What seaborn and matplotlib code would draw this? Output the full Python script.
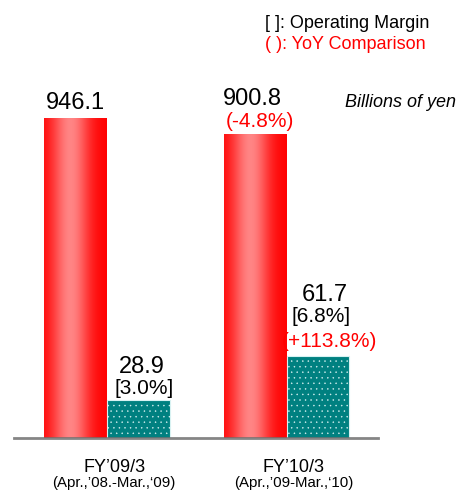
import numpy as np
import pandas as pd
import seaborn as sns
import matplotlib.pyplot as plt

# chart data
periods = ["FY’09/3", "FY’10/3"]
spans = ["(Apr.,’08.-Mar.,‘09)", "(Apr.,’09-Mar.,‘10)"]
kinds = ["Net sales", "Operating income"]
net_sales = [946.1, 900.8]
op_income = [28.9, 61.7]
op_margin = ["[3.0%]", "[6.8%]"]
sales_yoy = [None, "(-4.8%)"]
income_yoy = [None, "(+113.8%)"]


def pt(px):
    # pixel offset at 100 dpi -> points
    return px * 0.72


def main():
    sns.set_theme(style="white")
    plt.rcParams['font.family'] = ['Liberation Sans', 'DejaVu Sans']
    plt.rcParams['hatch.linewidth'] = 0.3

    fig = plt.figure(figsize=(4.57, 4.90), dpi=100)
    ax = fig.add_axes([14 / 457, 52 / 490, 364 / 457, 378 / 490])
    ax2 = ax.twinx()

    salesDf = pd.DataFrame({"period": periods, "value": net_sales, "kind": kinds[0]})
    incomeDf = pd.DataFrame({"period": periods, "value": op_income, "kind": kinds[1]})
    palette = {kinds[0]: "#ff0000", kinds[1]: "#008080"}

    sns.barplot(data=salesDf, x="period", y="value", hue="kind", hue_order=kinds,
                order=periods, dodge=True, width=0.7, palette=palette,
                errorbar=None, legend=False, ax=ax)
    sns.barplot(data=incomeDf, x="period", y="value", hue="kind", hue_order=kinds,
                order=periods, dodge=True, width=0.7, palette=palette,
                errorbar=None, legend=False, ax=ax2)

    # cylinder-like gradient on the red bars
    t = np.linspace(0, 1, 256)
    w = np.exp(-((t - 0.42) / 0.3) ** 2)
    img = np.zeros((1, 256, 3))
    img[0, :, 0] = 1.0
    img[0, :, 1] = 0.52 * w
    img[0, :, 2] = 0.52 * w
    salesBars = [p for p in ax.patches if p.get_height() > 0]
    for p in salesBars:
        x0 = p.get_x()
        x1 = x0 + p.get_width()
        ax.imshow(img, extent=[x0, x1, 0, p.get_height()], aspect='auto',
                  zorder=p.get_zorder(), interpolation='bicubic')
        p.set_facecolor('none')
        p.set_edgecolor('none')

    incomeBars = [p for p in ax2.patches if p.get_height() > 0]
    for p in incomeBars:
        p.set_facecolor('#008080')
        p.set_hatch('...')
        p.set_edgecolor('#d8f2f2')
        p.set_linewidth(0.8)

    ax.set_xlim(-0.52, 1.51)
    ax.set_ylim(0, 1121)
    ax2.set_ylim(0, 286)
    for a in (ax, ax2):
        a.set_xticks([])
        a.set_yticks([])
        a.set_xlabel("")
        a.set_ylabel("")
        for s in a.spines.values():
            s.set_visible(False)
    ax2.spines['bottom'].set_visible(True)
    ax2.spines['bottom'].set_color('#707070')
    ax2.spines['bottom'].set_linewidth(2)
    ax2.spines['bottom'].set_alpha(0.85)

    # value labels
    for i, p in enumerate(salesBars):
        cx = p.get_x() + p.get_width() / 2
        top = p.get_height()
        if sales_yoy[i] is None:
            ax.annotate(f"{net_sales[i]}", (cx, top), xytext=(0, pt(10)), textcoords='offset points',
                        ha='center', va='baseline', fontsize=17, color='black')
        else:
            ax.annotate(f"{net_sales[i]}", (cx, top), xytext=(pt(-3), pt(29)), textcoords='offset points',
                        ha='center', va='baseline', fontsize=17, color='black')
            ax.annotate(sales_yoy[i], (cx, top), xytext=(pt(5), pt(7)), textcoords='offset points',
                        ha='center', va='baseline', fontsize=15, color='#ff0000')

    for i, p in enumerate(incomeBars):
        cx = p.get_x() + p.get_width() / 2
        top = p.get_height()
        if income_yoy[i] is None:
            ax2.annotate(f"{op_income[i]}", (cx, top), xytext=(pt(3.5), pt(27)), textcoords='offset points',
                         ha='center', va='baseline', fontsize=17, color='black')
            ax2.annotate(op_margin[i], (cx, top), xytext=(pt(6), pt(6)), textcoords='offset points',
                         ha='center', va='baseline', fontsize=15, color='black')
        else:
            ax2.annotate(f"{op_income[i]}", (cx, top), xytext=(pt(7), pt(55)), textcoords='offset points',
                         ha='center', va='baseline', fontsize=17, color='black')
            ax2.annotate(op_margin[i], (cx, top), xytext=(pt(3.5), pt(34)), textcoords='offset points',
                         ha='center', va='baseline', fontsize=15, color='black')
            ax2.annotate(income_yoy[i], (cx, top), xytext=(pt(11.5), pt(9)), textcoords='offset points',
                         ha='center', va='baseline', fontsize=15, color='#ff0000')

    # category labels under the axis
    for i in range(len(periods)):
        ax.annotate(periods[i], (i, 0), xytext=(pt(7), pt(-34)), textcoords='offset points',
                    ha='center', va='baseline', fontsize=13, color='black', annotation_clip=False)
        ax.annotate(spans[i], (i, 0), xytext=(pt(7), pt(-48.5)), textcoords='offset points',
                    ha='center', va='baseline', fontsize=10.8, color='black', annotation_clip=False)

    # notes
    fig.text(265 / 457, 1 - 28 / 490, "[ ]: Operating Margin", fontsize=13, color='black',
             ha='left', va='baseline')
    fig.text(265 / 457, 1 - 49 / 490, "( ): YoY Comparison", fontsize=13, color='#ff0000',
             ha='left', va='baseline')
    fig.text(345 / 457, 1 - 107 / 490, "Billions of yen", fontsize=13, style='italic',
             color='black', ha='left', va='baseline')

    fig.savefig("out.png", dpi=100)


main()
